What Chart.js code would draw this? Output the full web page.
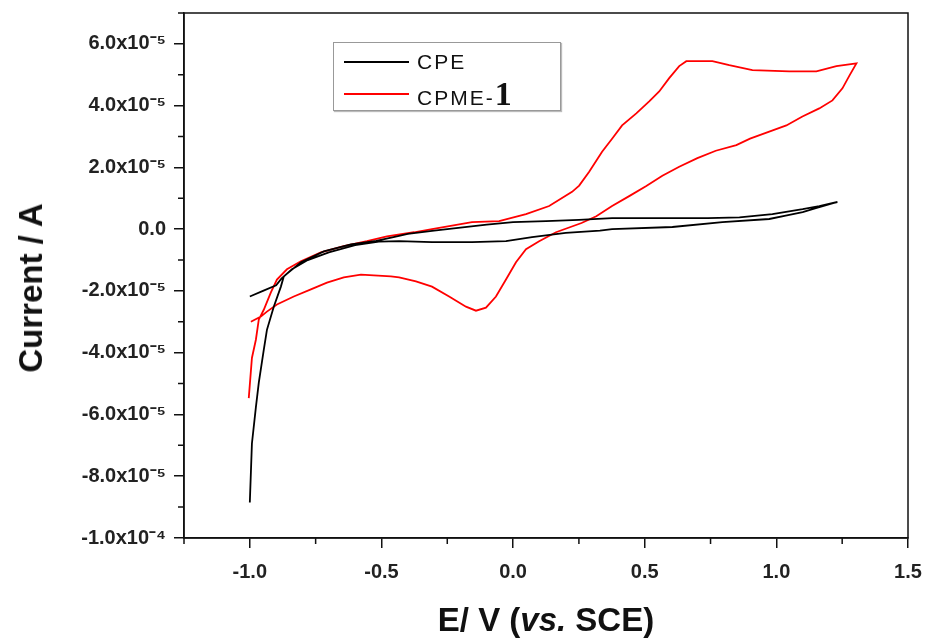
<!DOCTYPE html>
<html>
<head>
<meta charset="utf-8">
<script src="https://cdn.jsdelivr.net/npm/chart.js@4.4.1/dist/chart.umd.min.js"></script>
<style>
  body { margin: 0; background: #fff; }
  #wrap { position: relative; width: 929px; height: 640px; font-family: "Liberation Sans", Arial, sans-serif; }
  #cv { position: absolute; left: 0; top: 0; }
  .ytitle { position: absolute; left: 31px; top: 288px; transform: translate(-50%, -50%) rotate(-90deg);
            font-weight: bold; font-size: 33px; color: #111; white-space: nowrap; }
  .xtitle { position: absolute; left: 546px; top: 620px; transform: translate(-50%, -50%);
            font-weight: bold; font-size: 33px; color: #111; white-space: nowrap; }
  .legend { position: absolute; left: 333px; top: 42px; width: 226px; height: 67px;
            border: 1px solid #999; box-shadow: 1px 1px 1px #bbb; background: #fff; }
  .legend .row { position: absolute; left: 10px; height: 30px; display: flex; align-items: center; }
  .legend .swatch { width: 65px; height: 0; border-top: 2px solid; margin-right: 8px; }
  .legend .lbl { font-size: 21px; letter-spacing: 2px; color: #111; }
  .legend .one { font-family: "Liberation Serif", "Times New Roman", serif; font-weight: bold; font-size: 34px; letter-spacing: 0; }
</style>
</head>
<body>
<div id="wrap">
  <canvas id="cv" width="929" height="640"></canvas>
  <div class="ytitle">Current / A</div>
  <div class="xtitle">E/ V (<i>vs.</i> SCE)</div>
  <div class="legend">
    <div class="row" style="top:4px"><span class="swatch" style="border-color:#000"></span><span class="lbl">CPE</span></div>
    <div class="row" style="top:36px"><span class="swatch" style="border-color:#ff0000"></span><span class="lbl">CPME-<span class="one">1</span></span></div>
  </div>
</div>
<script>
// axis ticks
const xMajor = [-1.0, -0.5, 0.0, 0.5, 1.0, 1.5];
const xMinor = [-1.25, -0.75, -0.25, 0.25, 0.75, 1.25];
const yMajor = [-1e-4, -8e-5, -6e-5, -4e-5, -2e-5, 0, 2e-5, 4e-5, 6e-5];
const yMajorLabels = ['-1.0x10⁻⁴', '-8.0x10⁻⁵', '-6.0x10⁻⁵', '-4.0x10⁻⁵', '-2.0x10⁻⁵', '0.0', '2.0x10⁻⁵', '4.0x10⁻⁵', '6.0x10⁻⁵'];
const yMinor = [-9e-5, -7e-5, -5e-5, -3e-5, -1e-5, 1e-5, 3e-5, 5e-5, 7e-5];

// CPE (black) - potential (V) and current (A), in scan order
const cpeE = [-1.0, -0.992, -0.977, -0.966, -0.947, -0.935, -0.909, -0.882, -0.871, -0.806, -0.719, -0.616, -0.52,
  -0.45, -0.4, -0.3, -0.2, -0.1, 0.0, 0.125, 0.25, 0.376, 0.6, 0.74, 0.86, 0.985, 1.10, 1.163, 1.232,
  1.15, 1.10, 1.04, 0.973, 0.795, 0.605, 0.376, 0.33, 0.2, 0.072, -0.027, -0.156, -0.308, -0.433, -0.51,
  -0.6, -0.7, -0.78, -0.84, -0.88, -0.90, -0.95, -1.0];
const cpeI = [-8.85e-5, -6.94e-5, -5.77e-5, -4.98e-5, -3.91e-5, -3.26e-5, -2.51e-5, -1.86e-5, -1.53e-5, -1.07e-5, -0.72e-5, -0.49e-5, -0.38e-5,
  -0.25e-5, -0.15e-5, -0.05e-5, 0.05e-5, 0.15e-5, 0.23e-5, 0.26e-5, 0.3e-5, 0.36e-5, 0.36e-5, 0.36e-5, 0.38e-5, 0.49e-5, 0.65e-5, 0.75e-5, 0.88e-5,
  0.68e-5, 0.55e-5, 0.45e-5, 0.33e-5, 0.23e-5, 0.07e-5, 0.0, -0.05e-5, -0.12e-5, -0.26e-5, -0.39e-5, -0.42e-5, -0.42e-5, -0.39e-5, -0.4e-5,
  -0.52e-5, -0.75e-5, -1.0e-5, -1.3e-5, -1.6e-5, -1.82e-5, -2.0e-5, -2.18e-5];

// CPME-1 (red)
const cpmeE = [-1.004, -0.992, -0.977, -0.966, -0.947, -0.920, -0.897, -0.859, -0.806, -0.730, -0.643, -0.555, -0.479, -0.376,
  -0.308, -0.156, -0.053, 0.049, 0.137, 0.224, 0.251, 0.289, 0.338, 0.376, 0.414, 0.468, 0.517, 0.555, 0.593, 0.631, 0.658,
  0.757, 0.821, 0.909, 1.049, 1.152, 1.228, 1.304,
  1.278, 1.251, 1.213, 1.163, 1.099, 1.038, 0.973, 0.9, 0.848, 0.77, 0.7, 0.631, 0.567, 0.506, 0.441, 0.376, 0.316, 0.26,
  0.163, 0.099, 0.049, 0.011, -0.027, -0.065, -0.103, -0.141, -0.179, -0.243, -0.308, -0.369, -0.433, -0.464, -0.578,
  -0.643, -0.707, -0.768, -0.833, -0.897, -0.935, -0.958, -0.996];
const cpmeI = [-5.47e-5, -4.17e-5, -3.58e-5, -2.93e-5, -2.61e-5, -2.05e-5, -1.63e-5, -1.30e-5, -1.04e-5, -0.75e-5, -0.55e-5, -0.39e-5, -0.23e-5, -0.10e-5,
  0.0, 0.23e-5, 0.26e-5, 0.49e-5, 0.75e-5, 1.21e-5, 1.41e-5, 1.86e-5, 2.51e-5, 2.93e-5, 3.36e-5, 3.75e-5, 4.14e-5, 4.46e-5, 4.89e-5, 5.28e-5, 5.44e-5,
  5.44e-5, 5.31e-5, 5.15e-5, 5.11e-5, 5.11e-5, 5.28e-5, 5.37e-5,
  4.98e-5, 4.56e-5, 4.17e-5, 3.91e-5, 3.65e-5, 3.36e-5, 3.16e-5, 2.93e-5, 2.72e-5, 2.54e-5, 2.3e-5, 2.02e-5, 1.73e-5, 1.40e-5, 1.07e-5, 0.75e-5, 0.42e-5, 0.2e-5,
  -0.10e-5, -0.39e-5, -0.65e-5, -1.07e-5, -1.63e-5, -2.18e-5, -2.54e-5, -2.64e-5, -2.51e-5, -2.18e-5, -1.86e-5, -1.69e-5, -1.56e-5, -1.53e-5, -1.47e-5,
  -1.56e-5, -1.73e-5, -1.95e-5, -2.18e-5, -2.44e-5, -2.67e-5, -2.83e-5, -3.0e-5];

const toPoints = (xs, ys) => xs.map((x, i) => ({ x: x, y: ys[i] }));

// frame on all four sides + minor ticks
const frameAndMinor = {
  id: 'frameAndMinor',
  afterDraw(chart) {
    const { ctx, chartArea: a, scales: { x, y } } = chart;
    ctx.save();
    ctx.strokeStyle = '#111';
    ctx.lineWidth = 1.5;
    ctx.strokeRect(a.left, a.top, a.right - a.left, a.bottom - a.top);
    ctx.beginPath();
    xMinor.forEach(v => {
      const px = x.getPixelForValue(v);
      ctx.moveTo(px, a.bottom);
      ctx.lineTo(px, a.bottom + 6);
    });
    yMinor.forEach(v => {
      const py = y.getPixelForValue(v);
      ctx.moveTo(a.left, py);
      ctx.lineTo(a.left - 6, py);
    });
    ctx.stroke();
    ctx.restore();
  }
};

const axisGrid = { display: true, drawOnChartArea: false, drawTicks: true, tickLength: 10, color: '#111', lineWidth: 1.5 };
const tickFont = { family: '"Liberation Sans", Arial, sans-serif', size: 20, weight: 'bold' };

new Chart(document.getElementById('cv'), {
  type: 'scatter',
  data: {
    datasets: [
      { label: 'CPE', data: toPoints(cpeE, cpeI), showLine: true, borderColor: '#000', borderWidth: 1.8, pointRadius: 0, tension: 0 },
      { label: 'CPME-1', data: toPoints(cpmeE, cpmeI), showLine: true, borderColor: '#ff0000', borderWidth: 1.8, pointRadius: 0, tension: 0 }
    ]
  },
  options: {
    responsive: false,
    animation: false,
    layout: { padding: { top: 13, right: 21, left: 0, bottom: 0 } },
    plugins: { legend: { display: false }, tooltip: { enabled: false } },
    scales: {
      x: {
        type: 'linear', min: -1.25, max: 1.5,
        afterBuildTicks: s => { s.ticks = xMajor.map(v => ({ value: v })); },
        afterFit: s => { s.height = 102; s.paddingLeft = 0; s.paddingRight = 0; },
        grid: axisGrid,
        border: { display: true, color: '#111', width: 1.5 },
        ticks: { autoSkip: false, maxRotation: 0, padding: 12, color: '#222', font: tickFont,
                 callback: v => Number(v).toFixed(1) }
      },
      y: {
        type: 'linear', min: -1e-4, max: 7e-5,
        afterBuildTicks: s => { s.ticks = yMajor.map(v => ({ value: v })); },
        afterFit: s => { s.width = 184; s.paddingTop = 0; s.paddingBottom = 0; },
        grid: axisGrid,
        border: { display: true, color: '#111', width: 1.5 },
        ticks: { autoSkip: false, padding: 8, color: '#222', font: tickFont,
                 callback: v => yMajorLabels[yMajor.findIndex(t => Math.abs(t - v) < 1e-9)] }
      }
    }
  },
  plugins: [frameAndMinor]
});
</script>
</body>
</html>
